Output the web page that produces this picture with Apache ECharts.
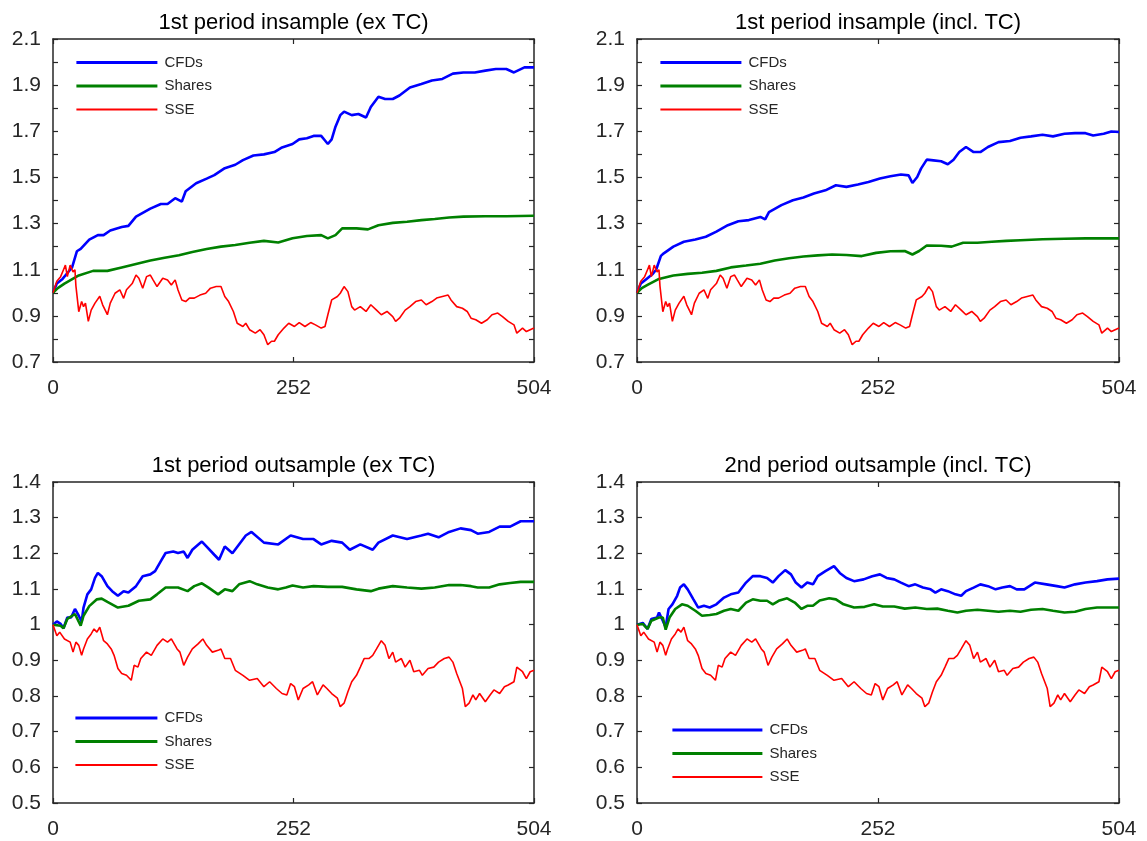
<!DOCTYPE html>
<html>
<head>
<meta charset="utf-8">
<script src="https://cdn.jsdelivr.net/npm/echarts@6/dist/echarts.min.js"></script>
<style>
html,body{margin:0;padding:0;background:#fff;}
#chart{width:1147px;height:841px;}
</style>
</head>
<body>
<div id="chart"></div>
<script>
// ---------- data: [day, cumulative value] ----------
const titles = ['1st period insample (ex TC)', '1st period insample (incl. TC)', '1st period outsample (ex TC)', '2nd period outsample (incl. TC)'];
const seriesNames = ['CFDs', 'Shares', 'SSE'];
const xTicks = [0, 252, 504];

const cfdInEx = [[0,1.0],[4,1.04],[10,1.06],[16,1.09],[20,1.11],[25,1.18],[29,1.19],[38,1.23],[47,1.25],[53,1.25],[60,1.27],[72,1.285],[79,1.29],[87,1.33],[102,1.365],[113,1.385],[120,1.385],[128,1.41],[135,1.395],[139,1.44],[150,1.475],[161,1.495],[169,1.51],[180,1.54],[191,1.555],[199,1.575],[210,1.595],[221,1.6],[232,1.61],[240,1.63],[251,1.645],[258,1.665],[266,1.67],[273,1.68],[281,1.68],[285,1.66],[288,1.645],[292,1.665],[296,1.72],[301,1.77],[305,1.785],[313,1.77],[320,1.775],[328,1.76],[333,1.805],[341,1.85],[348,1.84],[356,1.84],[363,1.855],[374,1.89],[386,1.905],[397,1.92],[408,1.927],[419,1.95],[430,1.955],[442,1.955],[453,1.963],[464,1.97],[475,1.97],[483,1.955],[494,1.977],[504,1.977]];
const shInEx = [[0,1.0],[5,1.02],[12,1.04],[27,1.075],[42,1.095],[57,1.095],[72,1.11],[87,1.125],[102,1.14],[117,1.152],[132,1.163],[146,1.177],[161,1.19],[176,1.2],[191,1.207],[206,1.217],[221,1.225],[236,1.218],[251,1.236],[266,1.246],[281,1.25],[288,1.236],[296,1.25],[303,1.279],[318,1.279],[330,1.275],[341,1.293],[356,1.303],[371,1.308],[386,1.315],[400,1.32],[415,1.326],[430,1.33],[453,1.332],[475,1.332],[504,1.334]];
const sseIn = [[0,1.0],[4,1.05],[8,1.07],[11,1.1],[13,1.12],[15,1.07],[18,1.12],[21,1.09],[23,1.1],[24,1.03],[27,0.918],[30,0.962],[32,0.94],[34,0.955],[37,0.876],[40,0.925],[44,0.955],[49,0.985],[52,0.948],[57,0.905],[60,0.955],[65,0.998],[70,1.013],[74,0.976],[77,1.013],[83,1.04],[87,1.077],[90,1.063],[94,1.02],[98,1.07],[102,1.077],[105,1.055],[109,1.027],[115,1.063],[120,1.055],[124,1.034],[128,1.056],[131,1.012],[135,0.969],[139,0.962],[143,0.977],[148,0.977],[154,0.99],[160,0.998],[165,1.02],[171,1.027],[176,1.027],[180,0.984],[184,0.962],[189,0.919],[193,0.868],[199,0.854],[202,0.868],[206,0.84],[212,0.825],[217,0.84],[221,0.818],[225,0.775],[229,0.79],[232,0.79],[236,0.818],[242,0.847],[247,0.868],[253,0.854],[258,0.871],[264,0.854],[270,0.871],[275,0.861],[281,0.847],[285,0.854],[288,0.905],[292,0.969],[298,0.984],[301,0.998],[305,1.027],[309,1.005],[313,0.94],[316,0.925],[322,0.94],[328,0.919],[333,0.948],[339,0.925],[344,0.905],[350,0.919],[356,0.897],[359,0.876],[363,0.89],[369,0.925],[374,0.94],[380,0.962],[386,0.969],[391,0.948],[397,0.962],[402,0.977],[408,0.984],[414,0.99],[417,0.969],[423,0.94],[429,0.933],[434,0.919],[438,0.89],[443,0.883],[449,0.868],[455,0.883],[460,0.905],[466,0.912],[471,0.897],[477,0.876],[483,0.861],[486,0.825],[492,0.847],[496,0.832],[500,0.84],[504,0.847]];

const cfdInIncl = [[0,1.0],[4,1.04],[10,1.06],[16,1.08],[20,1.1],[25,1.16],[28,1.171],[38,1.2],[49,1.221],[61,1.231],[72,1.243],[83,1.265],[95,1.293],[106,1.31],[117,1.315],[129,1.329],[134,1.318],[138,1.35],[151,1.38],[163,1.401],[174,1.413],[185,1.43],[197,1.444],[208,1.466],[219,1.459],[231,1.469],[242,1.48],[254,1.495],[265,1.505],[276,1.513],[284,1.509],[288,1.476],[293,1.502],[297,1.538],[303,1.577],[310,1.574],[318,1.57],[325,1.557],[331,1.577],[337,1.61],[344,1.632],[352,1.61],[359,1.61],[367,1.632],[378,1.653],[390,1.658],[401,1.672],[412,1.678],[424,1.685],[435,1.678],[447,1.689],[458,1.692],[469,1.692],[477,1.682],[488,1.689],[496,1.699],[504,1.697]];
const shInIncl = [[0,1.0],[5,1.02],[11,1.034],[23,1.06],[38,1.075],[53,1.082],[68,1.087],[83,1.095],[98,1.11],[114,1.118],[129,1.126],[144,1.14],[159,1.15],[174,1.157],[189,1.162],[204,1.166],[219,1.164],[235,1.159],[250,1.173],[265,1.18],[280,1.181],[288,1.166],[295,1.181],[303,1.205],[318,1.204],[329,1.2],[341,1.217],[356,1.217],[371,1.221],[386,1.225],[401,1.228],[424,1.232],[447,1.234],[469,1.236],[504,1.236]];

const cfdOut1 = [[0,1.0],[4,1.009],[8,1.002],[11,0.99],[15,1.02],[19,1.02],[23,1.044],[27,1.025],[30,1.008],[32,1.048],[36,1.085],[40,1.099],[44,1.131],[47,1.145],[51,1.136],[57,1.108],[62,1.094],[68,1.081],[74,1.094],[79,1.09],[87,1.108],[94,1.136],[102,1.141],[107,1.15],[113,1.178],[118,1.201],[126,1.205],[131,1.201],[137,1.205],[141,1.187],[146,1.21],[152,1.224],[156,1.233],[161,1.219],[169,1.196],[174,1.182],[180,1.219],[188,1.2],[202,1.25],[208,1.26],[221,1.23],[236,1.225],[249,1.25],[262,1.24],[273,1.24],[281,1.225],[292,1.235],[303,1.23],[311,1.21],[322,1.225],[335,1.21],[341,1.23],[356,1.25],[371,1.24],[386,1.25],[393,1.255],[404,1.245],[415,1.26],[427,1.27],[438,1.265],[445,1.255],[457,1.26],[468,1.275],[479,1.275],[490,1.29],[504,1.29]];
const shOut1 = [[0,1.0],[8,0.997],[11,0.99],[15,1.016],[23,1.03],[29,0.997],[32,1.025],[38,1.052],[46,1.071],[51,1.073],[57,1.064],[68,1.048],[79,1.053],[90,1.067],[102,1.071],[109,1.085],[118,1.104],[131,1.104],[141,1.094],[148,1.108],[156,1.116],[163,1.104],[173,1.085],[180,1.099],[188,1.094],[195,1.113],[206,1.122],[214,1.113],[225,1.104],[236,1.099],[244,1.104],[251,1.11],[262,1.104],[273,1.108],[288,1.106],[303,1.106],[318,1.099],[333,1.094],[341,1.101],[356,1.108],[371,1.104],[386,1.101],[400,1.104],[415,1.111],[427,1.111],[438,1.108],[445,1.104],[457,1.104],[468,1.113],[479,1.117],[490,1.12],[504,1.12]];
const sseOut = [[0,1.0],[4,0.969],[7,0.979],[12,0.96],[18,0.951],[21,0.923],[24,0.951],[27,0.942],[30,0.914],[32,0.932],[36,0.96],[40,0.974],[43,0.988],[46,0.979],[49,0.993],[53,0.955],[57,0.946],[61,0.932],[64,0.914],[68,0.877],[72,0.863],[77,0.858],[82,0.844],[85,0.886],[89,0.881],[92,0.905],[98,0.923],[103,0.914],[109,0.942],[115,0.96],[120,0.951],[124,0.96],[130,0.932],[133,0.923],[137,0.886],[141,0.909],[146,0.932],[152,0.946],[157,0.96],[161,0.942],[167,0.923],[173,0.928],[176,0.932],[180,0.905],[186,0.905],[191,0.872],[199,0.858],[206,0.844],[214,0.849],[221,0.826],[227,0.84],[234,0.821],[240,0.807],[245,0.803],[249,0.835],[253,0.826],[257,0.789],[262,0.821],[268,0.831],[272,0.84],[277,0.803],[283,0.831],[287,0.821],[292,0.807],[298,0.794],[301,0.77],[305,0.78],[309,0.812],[313,0.84],[318,0.858],[322,0.881],[326,0.905],[331,0.905],[335,0.914],[339,0.932],[344,0.955],[348,0.942],[352,0.905],[356,0.923],[359,0.895],[365,0.905],[369,0.881],[374,0.9],[378,0.868],[384,0.872],[387,0.858],[393,0.877],[399,0.881],[404,0.895],[410,0.905],[415,0.909],[419,0.895],[423,0.863],[429,0.821],[432,0.77],[436,0.78],[440,0.803],[443,0.789],[447,0.807],[453,0.784],[458,0.803],[462,0.817],[468,0.807],[473,0.826],[477,0.831],[483,0.84],[486,0.881],[492,0.868],[496,0.849],[500,0.868],[504,0.872]];

const cfdOut2 = [[0,1.0],[6,1.005],[11,0.988],[15,1.016],[21,1.02],[23,1.034],[27,1.011],[30,0.993],[33,1.044],[37,1.057],[42,1.081],[45,1.104],[49,1.113],[53,1.099],[59,1.071],[64,1.048],[70,1.053],[76,1.048],[83,1.057],[91,1.076],[98,1.085],[106,1.09],[114,1.118],[121,1.136],[129,1.136],[136,1.131],[142,1.118],[148,1.136],[155,1.153],[161,1.141],[166,1.118],[172,1.104],[178,1.118],[184,1.113],[189,1.136],[197,1.15],[206,1.164],[212,1.145],[219,1.131],[227,1.122],[237,1.127],[246,1.136],[254,1.141],[261,1.131],[269,1.127],[276,1.118],[284,1.108],[291,1.113],[299,1.104],[307,1.099],[312,1.09],[318,1.099],[325,1.094],[333,1.085],[339,1.081],[344,1.094],[352,1.104],[359,1.113],[367,1.108],[375,1.099],[382,1.104],[390,1.108],[397,1.099],[405,1.099],[416,1.118],[428,1.113],[439,1.108],[447,1.104],[458,1.113],[469,1.118],[481,1.122],[492,1.127],[504,1.129]];
const shOut2 = [[0,1.0],[6,1.002],[11,0.988],[15,1.011],[23,1.02],[27,1.02],[30,0.986],[34,1.02],[40,1.044],[47,1.057],[53,1.053],[61,1.039],[68,1.025],[76,1.027],[83,1.03],[91,1.039],[98,1.044],[106,1.039],[114,1.062],[121,1.071],[129,1.067],[136,1.067],[142,1.057],[149,1.068],[157,1.074],[165,1.062],[172,1.044],[178,1.053],[184,1.053],[191,1.068],[201,1.074],[208,1.071],[216,1.057],[227,1.048],[238,1.05],[248,1.057],[257,1.051],[269,1.051],[280,1.045],[291,1.048],[303,1.044],[314,1.045],[325,1.039],[335,1.034],[344,1.039],[356,1.042],[367,1.039],[378,1.036],[390,1.039],[401,1.036],[412,1.042],[424,1.044],[435,1.039],[447,1.034],[458,1.036],[469,1.044],[481,1.048],[492,1.048],[504,1.048]];

const panelData = [
  [cfdInEx, shInEx, sseIn],
  [cfdInIncl, shInIncl, sseIn],
  [cfdOut1, shOut1, sseOut],
  [cfdOut2, shOut2, sseOut]
];
const yRanges = [[0.7, 2.1], [0.7, 2.1], [0.5, 1.4], [0.5, 1.4]];
const yLabelEvery = [2, 2, 1, 1];

// ---------- layout / style ----------
const FONT = '"Liberation Sans", Arial, Helvetica, sans-serif';
const AX = '#262626';
const grids = [
  {left: 53, top: 39, width: 481, height: 323},
  {left: 637, top: 39, width: 482, height: 323},
  {left: 53, top: 482, width: 481, height: 321},
  {left: 637, top: 482, width: 482, height: 321}
];
const legendPos = [
  {left: 75, top: 55, itemWidth: 81},
  {left: 659, top: 55, itemWidth: 81},
  {left: 74, top: 710.5, itemWidth: 82},
  {left: 671, top: 722.5, itemWidth: 90}
];
const colors = ['#0000ff', '#008000', '#ff0000'];
const widths = [2.6, 2.6, 1.6];

const option = {
  backgroundColor: '#ffffff',
  animation: false,
  title: [], grid: [], xAxis: [], yAxis: [], legend: [], series: []
};

grids.forEach((g, i) => {
  option.grid.push(Object.assign({containLabel: false}, g));
  option.title.push({
    text: titles[i],
    left: g.left + g.width / 2,
    top: i < 2 ? 12 : 455,
    textAlign: 'center',
    padding: 0,
    textStyle: {fontFamily: FONT, fontSize: 22, fontWeight: 'normal', color: '#000'}
  });
  const [ymin, ymax] = yRanges[i];
  const every = yLabelEvery[i];
  const lineStyle = {color: AX, width: 1.5};
  const tick = {show: true, inside: true, length: 5, lineStyle: {color: AX, width: 1.2}};
  // bottom x
  option.xAxis.push({
    type: 'value', gridIndex: i, min: xTicks[0], max: xTicks[2], interval: xTicks[1] - xTicks[0],
    position: 'bottom',
    axisLine: {show: true, onZero: false, lineStyle},
    axisTick: tick, splitLine: {show: false},
    axisLabel: {show: true, margin: 16, color: AX, fontFamily: FONT, fontSize: 21}
  });
  // top x (box + ticks)
  option.xAxis.push({
    type: 'value', gridIndex: i, min: xTicks[0], max: xTicks[2], interval: xTicks[1] - xTicks[0],
    position: 'top',
    axisLine: {show: true, onZero: false, lineStyle},
    axisTick: tick, splitLine: {show: false}, axisLabel: {show: false}
  });
  // left y
  option.yAxis.push({
    type: 'value', gridIndex: i, min: ymin, max: ymax, interval: 0.1,
    position: 'left',
    axisLine: {show: true, onZero: false, lineStyle},
    axisTick: tick, splitLine: {show: false},
    axisLabel: {
      show: true, margin: 12, color: AX, fontFamily: FONT, fontSize: 21,
      formatter: function (v) {
        const k = Math.round((v - ymin) * 10);
        if (k % every !== 0) return '';
        return String(Math.round(v * 10) / 10);
      }
    }
  });
  // right y
  option.yAxis.push({
    type: 'value', gridIndex: i, min: ymin, max: ymax, interval: 0.1,
    position: 'right',
    axisLine: {show: true, onZero: false, lineStyle},
    axisTick: tick, splitLine: {show: false}, axisLabel: {show: false}
  });
  const lp = legendPos[i];
  option.legend.push({
    data: seriesNames.map((n, s) => ({name: n, lineStyle: {width: widths[s] + 0.2, color: colors[s]}})),
    orient: 'vertical',
    left: lp.left, top: lp.top,
    itemWidth: lp.itemWidth, itemHeight: 15, itemGap: 8.5,
    padding: 0,
    itemStyle: {opacity: 0, borderWidth: 0},
    textStyle: {fontFamily: FONT, fontSize: 15, color: AX, padding: [0, 0, 0, 2]}
  });
  panelData[i].forEach((d, s) => {
    option.series.push({
      name: seriesNames[s],
      type: 'line',
      xAxisIndex: 2 * i, yAxisIndex: 2 * i,
      data: d,
      symbol: 'none', showSymbol: false,
      lineStyle: {color: colors[s], width: widths[s]},
      itemStyle: {color: colors[s]},
      z: 2 + s
    });
  });
});

const chart = echarts.init(document.getElementById('chart'), null, {renderer: 'canvas'});
chart.setOption(option);
</script>
</body>
</html>
